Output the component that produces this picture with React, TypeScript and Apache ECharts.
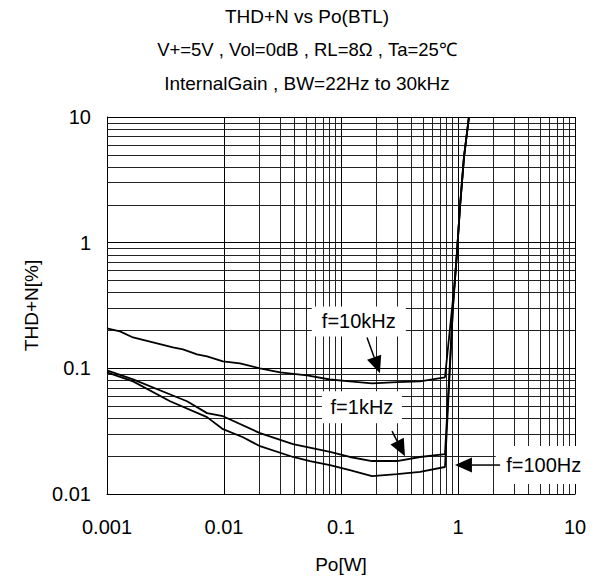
import React, { useEffect, useRef } from "react";
import * as echarts from "echarts";

const titleLines = [
  "THD+N vs Po(BTL)",
  "V+=5V , Vol=0dB , RL=8Ω , Ta=25℃",
  "InternalGain , BW=22Hz to 30kHz",
];
const xName = "Po[W]";
const yName = "THD+N[%]";

const xMin = 0.001;
const xMax = 10;
const yMin = 0.01;
const yMax = 10;

// f=10kHz
const po10k = [0.001, 0.00129, 0.00167, 0.00366, 0.00446, 0.00588, 0.00716, 0.0098, 0.0137, 0.0203, 0.0301, 0.0512, 0.0805, 0.119, 0.184, 0.301, 0.474, 0.774, 0.93, 0.98, 1.04, 1.125, 1.24];
const thd10k = [0.208, 0.197, 0.176, 0.147, 0.1415, 0.129, 0.1245, 0.1137, 0.1096, 0.1, 0.0929, 0.088, 0.0815, 0.0788, 0.076, 0.0776, 0.0788, 0.0849, 0.45, 0.833, 1.93, 4.8, 10];

// f=1kHz
const po1k = [0.001, 0.00167, 0.00397, 0.00483, 0.00716, 0.0098, 0.0203, 0.0389, 0.0805, 0.119, 0.184, 0.301, 0.474, 0.774, 0.906, 0.98, 1.04, 1.125, 1.24];
const thd1k = [0.0964, 0.0818, 0.0589, 0.0547, 0.044, 0.0416, 0.0305, 0.0249, 0.0216, 0.0197, 0.0183, 0.0183, 0.0197, 0.0208, 0.31, 0.833, 1.93, 4.8, 10];

// f=100Hz
const po100 = [0.001, 0.00167, 0.00346, 0.00716, 0.0098, 0.01453, 0.0203, 0.0389, 0.0543, 0.0805, 0.119, 0.184, 0.301, 0.474, 0.774, 0.906, 0.98, 1.04, 1.125, 1.24];
const thd100 = [0.0929, 0.0788, 0.0547, 0.0409, 0.0328, 0.0283, 0.024, 0.0197, 0.0183, 0.017, 0.0155, 0.0139, 0.0144, 0.015, 0.0164, 0.31, 0.833, 1.93, 4.8, 10];

// annotations in data coordinates: label centre, arrow tail, arrow tip
const annLabels = ["f=10kHz", "f=1kHz", "f=100Hz"];
const annLabelPos = [[0.142, 0.236], [0.151, 0.049], [5.4, 0.017]];
const annTail = [[0.1668, 0.176], [0.273, 0.0316], [2.29, 0.017]];
const annTip = [[0.215, 0.0913], [0.352, 0.02], [0.942, 0.017]];

const decadesX = [0.001, 0.01, 0.1, 1];
const decadesY = [0.01, 0.1, 1];
const minorMults = [2, 3, 4, 5, 6, 7, 8, 9];

const FONT = "'Liberation Sans', Arial, sans-serif";

function zip(xs: number[], ys: number[]) {
  return xs.map((x, i) => [x, ys[i]]);
}

export default function App() {
  const ref = useRef<HTMLDivElement>(null);
  useEffect(() => {
    if (!ref.current) return;
    const chart = echarts.init(ref.current, undefined, { renderer: "svg" });

    const gridLines: any[] = [];
    const major = { color: "#000", width: 1, type: "solid" };
    const minor = { color: "#222", width: 1, type: "solid" };
    decadesX.forEach((d) => {
      if (d > xMin) gridLines.push({ xAxis: d, lineStyle: major });
      minorMults.forEach((m) => gridLines.push({ xAxis: d * m, lineStyle: minor }));
    });
    decadesY.forEach((d) => {
      if (d > yMin) gridLines.push({ yAxis: d, lineStyle: major });
      minorMults.forEach((m) => gridLines.push({ yAxis: d * m, lineStyle: minor }));
    });
    gridLines.push({ yAxis: yMax, lineStyle: major });
    gridLines.push({ xAxis: xMax, lineStyle: major });

    const curve = (name: string, xs: number[], ys: number[]) => ({
      name,
      type: "line",
      data: zip(xs, ys),
      symbol: "none",
      smooth: false,
      z: 5,
      lineStyle: { color: "#000", width: 1.8 },
      silent: true,
    });

    const titleSizes = [19, 18.5, 19];
    chart.setOption({
      animation: false,
      backgroundColor: "#fff",
      title: titleLines.map((t, i) => ({
        text: t,
        left: 302,
        top: [2, 35, 69][i],
        textAlign: "center",
        textStyle: { fontFamily: FONT, fontSize: titleSizes[i], fontWeight: "normal", color: "#000" },
      })),
      grid: { left: 107, right: 22, top: 117, bottom: 84, containLabel: false },
      xAxis: {
        type: "log",
        logBase: 10,
        min: xMin,
        max: xMax,
        name: xName,
        nameLocation: "middle",
        nameGap: 61,
        nameTextStyle: { fontFamily: FONT, fontSize: 19, color: "#000" },
        axisLine: { show: true, lineStyle: { color: "#000", width: 1 } },
        axisTick: { show: false },
        splitLine: { show: false },
        axisLabel: {
          fontFamily: FONT,
          fontSize: 20,
          color: "#000",
          margin: 23,
          formatter: (v: number) => String(Number(v.toPrecision(3))),
        },
      },
      yAxis: {
        type: "log",
        logBase: 10,
        min: yMin,
        max: yMax,
        name: yName,
        nameLocation: "middle",
        nameGap: 62,
        nameRotate: 90,
        nameTextStyle: { fontFamily: FONT, fontSize: 19, color: "#000" },
        axisLine: { show: true, lineStyle: { color: "#000", width: 1 } },
        axisTick: { show: false },
        splitLine: { show: false },
        axisLabel: {
          fontFamily: FONT,
          fontSize: 20,
          color: "#000",
          margin: 16,
          formatter: (v: number) => String(Number(v.toPrecision(3))),
        },
      },
      series: [
        {
          name: "grid",
          type: "line",
          data: [[1, 1]],
          symbol: "none",
          lineStyle: { width: 0, opacity: 0 },
          z: 1,
          silent: true,
          markLine: {
            silent: true,
            symbol: ["none", "none"],
            label: { show: false },
            animation: false,
            data: gridLines,
          },
        },
        curve("f=10kHz", po10k, thd10k),
        curve("f=1kHz", po1k, thd1k),
        curve("f=100Hz", po100, thd100),
      ],
    });

    const px = (p: number[]) => chart.convertToPixel({ gridIndex: 0 }, p) as number[];
    const graphics: any[] = [];
    const boxW = [94, 80, 96];
    const boxH = [30, 32, 38];
    annLabels.forEach((lab, i) => {
      const c = px(annLabelPos[i]);
      const t0 = px(annTail[i]);
      const t1 = px(annTip[i]);
      const dx = t1[0] - t0[0];
      const dy = t1[1] - t0[1];
      const len = Math.sqrt(dx * dx + dy * dy);
      const ux = dx / len;
      const uy = dy / len;
      const hl = 17;
      const hw = 7.5;
      const bx = t1[0] - ux * hl;
      const by = t1[1] - uy * hl;
      graphics.push({
        type: "rect",
        shape: { x: c[0] - boxW[i] / 2, y: c[1] - boxH[i] / 2, width: boxW[i], height: boxH[i] },
        style: { fill: "#fff" },
        z: 10,
      });
      graphics.push({
        type: "text",
        x: c[0],
        y: c[1],
        style: { text: lab, fill: "#000", font: `20px ${FONT}`, align: "center", verticalAlign: "middle" },
        z: 11,
      });
      graphics.push({
        type: "line",
        shape: { x1: t0[0], y1: t0[1], x2: bx, y2: by },
        style: { stroke: "#000", lineWidth: 1.5 },
        z: 11,
      });
      graphics.push({
        type: "polygon",
        shape: {
          points: [
            [t1[0], t1[1]],
            [bx - uy * hw, by + ux * hw],
            [bx + uy * hw, by - ux * hw],
          ],
        },
        style: { fill: "#000" },
        z: 11,
      });
    });
    chart.setOption({ graphic: graphics });

    return () => chart.dispose();
  }, []);
  return (
    <div
      ref={ref}
      style={{ position: "absolute", left: 0, top: 0, width: 597, height: 579, background: "#fff" }}
    />
  );
}
